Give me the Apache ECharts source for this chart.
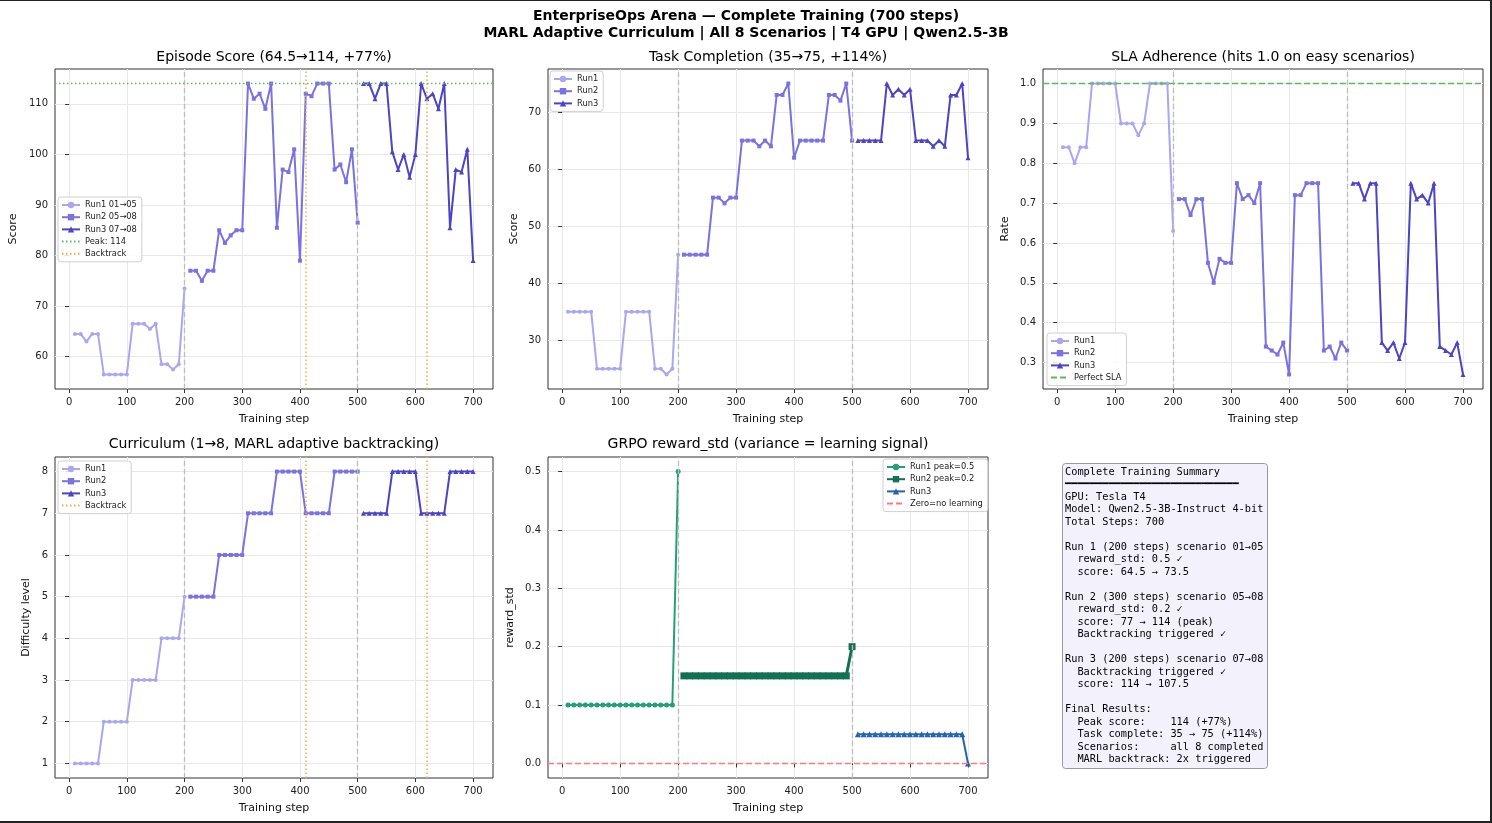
<!DOCTYPE html>
<html>
<head>
<meta charset="utf-8">
<script src="https://cdn.jsdelivr.net/npm/echarts@6/dist/echarts.min.js"></script>
<style>
html,body{margin:0;padding:0;background:#fff;}
#chart{width:1492px;height:823px;}
</style>
</head>
<body>
<div id="chart"></div>
<script>
// ---------- DATA ----------
const steps1 = [10,20,30,40,50,60,70,80,90,100,110,120,130,140,150,160,170,180,190,200];
const steps2 = [210,220,230,240,250,260,270,280,290,300,310,320,330,340,350,360,370,380,390,400,410,420,430,440,450,460,470,480,490,500];
const steps3 = [510,520,530,540,550,560,570,580,590,600,610,620,630,640,650,660,670,680,690,700];

const score1 = [64.5,64.5,63,64.5,64.5,56.5,56.5,56.5,56.5,56.5,66.5,66.5,66.5,65.5,66.5,58.5,58.5,57.5,58.5,73.5];
const score2 = [77,77,75,77,77,85,82.5,84,85,85,114,111,112,109,114,85.5,97,96.5,101,79,112,111.5,114,114,114,97,98,94.5,101,86.5];
const score3 = [114,114,111,114,114,100.5,97,100,95.5,100,114,111,112,109,114,85.5,97,96.5,101,79];

const task1 = [35,35,35,35,35,25,25,25,25,25,35,35,35,35,35,25,25,24,25,45];
const task2 = [45,45,45,45,45,55,55,54,55,55,65,65,65,64,65,64,73,73,75,62,65,65,65,65,65,73,73,72,75,65];
const task3 = [65,65,65,65,65,75,73,74,73,74,65,65,65,64,65,64,73,73,75,62];

const sla1 = [0.84,0.84,0.80,0.84,0.84,1,1,1,1,1,0.90,0.90,0.90,0.87,0.90,1,1,1,1,0.63];
const sla2 = [0.71,0.71,0.67,0.71,0.71,0.55,0.50,0.56,0.55,0.55,0.75,0.71,0.72,0.70,0.75,0.34,0.33,0.32,0.35,0.27,0.72,0.72,0.75,0.75,0.75,0.33,0.34,0.31,0.35,0.33];
const sla3 = [0.75,0.75,0.71,0.75,0.75,0.35,0.33,0.35,0.31,0.35,0.75,0.71,0.72,0.70,0.75,0.34,0.33,0.32,0.35,0.27];

const cur1 = [1,1,1,1,1,2,2,2,2,2,3,3,3,3,3,4,4,4,4,5];
const cur2 = [5,5,5,5,5,6,6,6,6,6,7,7,7,7,7,8,8,8,8,8,7,7,7,7,7,8,8,8,8,8];
const cur3 = [7,7,7,7,7,8,8,8,8,8,7,7,7,7,7,8,8,8,8,8];

const std1 = [0.1,0.1,0.1,0.1,0.1,0.1,0.1,0.1,0.1,0.1,0.1,0.1,0.1,0.1,0.1,0.1,0.1,0.1,0.1,0.5];
const std2 = [0.15,0.15,0.15,0.15,0.15,0.15,0.15,0.15,0.15,0.15,0.15,0.15,0.15,0.15,0.15,0.15,0.15,0.15,0.15,0.15,0.15,0.15,0.15,0.15,0.15,0.15,0.15,0.15,0.15,0.2];
const std3 = [0.05,0.05,0.05,0.05,0.05,0.05,0.05,0.05,0.05,0.05,0.05,0.05,0.05,0.05,0.05,0.05,0.05,0.05,0.05,0];

const runBoundaries = [200, 500];
const backtrackSteps = [410, 620];
const peakScore = 114;
const perfectSLA = 1.0;

const xTicks = [0,100,200,300,400,500,600,700];
const yTicks1 = [60,70,80,90,100,110];
const yTicks2 = [30,40,50,60,70];
const yTicks3 = [0.3,0.4,0.5,0.6,0.7,0.8,0.9,1.0];
const yTicks4 = [1,2,3,4,5,6,7,8];
const yTicks5 = [0,0.1,0.2,0.3,0.4,0.5];

const summaryLines = [
  'Complete Training Summary',
  '━━━━━━━━━━━━━━━━━━━━━━━━━━━━',
  'GPU: Tesla T4',
  'Model: Qwen2.5-3B-Instruct 4-bit',
  'Total Steps: 700',
  '',
  'Run 1 (200 steps) scenario 01→05',
  '  reward_std: 0.5 ✓',
  '  score: 64.5 → 73.5',
  '',
  'Run 2 (300 steps) scenario 05→08',
  '  reward_std: 0.2 ✓',
  '  score: 77 → 114 (peak)',
  '  Backtracking triggered ✓',
  '',
  'Run 3 (200 steps) scenario 07→08',
  '  Backtracking triggered ✓',
  '  score: 114 → 107.5',
  '',
  'Final Results:',
  '  Peak score:    114 (+77%)',
  '  Task complete: 35 → 75 (+114%)',
  '  Scenarios:     all 8 completed',
  '  MARL backtrack: 2x triggered'
];

// ---------- STYLE ----------
const FONT = 'DejaVu Sans';
const C1 = '#aba6ee', C2 = '#7a72df', C3 = '#4c44c2';
const G1 = '#23a07a', G2 = '#137052', G3 = '#2565ad';
const GREEN_REF = '#5cba5c', ORANGE = '#ffa640', RED0 = '#ff7a7a';

const zip = (xs, ys) => xs.map((x, i) => [x, ys[i]]);

const grids = [
  {left: 55,  top: 69,  width: 438, height: 320},
  {left: 548, top: 69,  width: 440, height: 320},
  {left: 1043,top: 69,  width: 440, height: 320},
  {left: 55,  top: 457, width: 438, height: 321},
  {left: 548, top: 457, width: 440, height: 321}
].map(g => Object.assign({show: true, borderColor: '#333', borderWidth: 1, backgroundColor: 'transparent'}, g));

function xAxis(i) {
  return {
    type: 'value', gridIndex: i, min: -24.5, max: 734.5,
    name: 'Training step', nameLocation: 'middle', nameGap: 25,
    nameTextStyle: {fontFamily: FONT, fontSize: 11, color: '#111'},
    axisLine: {show: false},
    axisTick: {show: true, inside: false, length: 4, lineStyle: {color: '#333'}, customValues: xTicks},
    axisLabel: {show: true, customValues: xTicks, fontFamily: FONT, fontSize: 10, color: '#222', margin: 8},
    splitLine: {show: true, lineStyle: {color: '#e8e8e8', width: 1}}
  };
}
function yAxis(i, min, max, ticks, name, gap, fmt) {
  return {
    type: 'value', gridIndex: i, min: min, max: max,
    name: name, nameLocation: 'middle', nameGap: gap,
    nameTextStyle: {fontFamily: FONT, fontSize: 11, color: '#111'},
    axisLine: {show: false},
    axisTick: {show: true, inside: false, length: 4, lineStyle: {color: '#333'}, customValues: ticks},
    axisLabel: {show: true, customValues: ticks, fontFamily: FONT, fontSize: 10, color: '#222', margin: 7,
      formatter: fmt || (v => String(v))},
    splitLine: {show: true, lineStyle: {color: '#e8e8e8', width: 1}}
  };
}

function runSeries(name, gi, xs, ys, color, symbol, opts) {
  opts = opts || {};
  return {
    type: 'line', name: name, xAxisIndex: gi, yAxisIndex: gi,
    data: zip(xs, ys), color: color,
    symbol: symbol, symbolSize: opts.size || 4, showSymbol: true,
    lineStyle: {color: color, width: opts.width || 2},
    itemStyle: {color: color},
    z: 3, animation: false, silent: true
  };
}
function vlineSeries(gi, xs) {
  return {
    type: 'line', name: '__runs' + gi, xAxisIndex: gi, yAxisIndex: gi, data: [],
    silent: true, animation: false,
    markLine: {silent: true, symbol: 'none', animation: false, label: {show: false},
      lineStyle: {color: '#bdbdbd', type: [5, 3], width: 1.3},
      data: xs.map(x => ({xAxis: x}))}
  };
}
function refSeries(name, gi, mlData, color, type, width) {
  return {
    type: 'line', name: name, xAxisIndex: gi, yAxisIndex: gi, data: [],
    symbol: 'none', color: color, lineStyle: {color: color, type: type, width: width},
    itemStyle: {color: color, opacity: 0},
    silent: true, animation: false, z: 2,
    markLine: {silent: true, symbol: 'none', animation: false, label: {show: false},
      lineStyle: {color: color, type: type, width: width, opacity: 1}, data: mlData}
  };
}

const series = [
  // plot 1
  vlineSeries(0, runBoundaries),
  runSeries('Run1 01→05', 0, steps1, score1, C1, 'circle'),
  runSeries('Run2 05→08', 0, steps2, score2, C2, 'rect'),
  runSeries('Run3 07→08', 0, steps3, score3, C3, 'triangle', {size: 5}),
  refSeries('Peak: 114', 0, [{yAxis: peakScore}], GREEN_REF, [1.5, 2.5], 1.4),
  refSeries('Backtrack', 0, backtrackSteps.map(x => ({xAxis: x})), ORANGE, [1.5, 2.5], 1.5),
  // plot 2
  vlineSeries(1, runBoundaries),
  runSeries('Run1', 1, steps1, task1, C1, 'circle'),
  runSeries('Run2', 1, steps2, task2, C2, 'rect'),
  runSeries('Run3', 1, steps3, task3, C3, 'triangle', {size: 5}),
  // plot 3
  vlineSeries(2, runBoundaries),
  runSeries('Run1', 2, steps1, sla1, C1, 'circle'),
  runSeries('Run2', 2, steps2, sla2, C2, 'rect'),
  runSeries('Run3', 2, steps3, sla3, C3, 'triangle', {size: 5}),
  refSeries('Perfect SLA', 2, [{yAxis: perfectSLA}], GREEN_REF, [6, 3], 1.4),
  // plot 4
  vlineSeries(3, runBoundaries),
  runSeries('Run1', 3, steps1, cur1, C1, 'circle'),
  runSeries('Run2', 3, steps2, cur2, C2, 'rect'),
  runSeries('Run3', 3, steps3, cur3, C3, 'triangle', {size: 5}),
  refSeries('Backtrack', 3, backtrackSteps.map(x => ({xAxis: x})), ORANGE, [1.5, 2.5], 1.5),
  // plot 5
  vlineSeries(4, runBoundaries),
  runSeries('Run1 peak=0.5', 4, steps1, std1, G1, 'circle', {size: 5, width: 2}),
  runSeries('Run2 peak=0.2', 4, steps2, std2, G2, 'rect', {size: 7, width: 3}),
  runSeries('Run3 ', 4, steps3, std3, G3, 'triangle', {size: 6, width: 2}),
  refSeries('Zero=no learning', 4, [{yAxis: 0}], RED0, [6, 3], 1.4)
];

const refNames = ['Peak: 114', 'Backtrack', 'Perfect SLA', 'Zero=no learning'];
function legend(left, top, names) {
  return {
    left: left, top: top, orient: 'vertical', selectedMode: false,
    data: names.map(n => refNames.includes(n) ? {name: n, itemStyle: {opacity: 0}} : n),
    itemWidth: 18, itemHeight: 8, itemGap: 4.2,
    padding: [4, 5, 4, 3],
    backgroundColor: 'rgba(255,255,255,0.85)', borderColor: '#d0d0d0', borderWidth: 1, borderRadius: 3,
    textStyle: {fontFamily: FONT, fontSize: 8.3, color: '#222'}
  };
}

const titles = [
  {x: 274, y: 57, t: 'Episode Score (64.5→114, +77%)'},
  {x: 768, y: 57, t: 'Task Completion (35→75, +114%)'},
  {x: 1263, y: 57, t: 'SLA Adherence (hits 1.0 on easy scenarios)'},
  {x: 274, y: 444, t: 'Curriculum (1→8, MARL adaptive backtracking)'},
  {x: 768, y: 444, t: 'GRPO reward_std (variance = learning signal)'}
];

const graphic = [
  {type: 'text', x: 746, y: 16, style: {text: 'EnterpriseOps Arena — Complete Training (700 steps)', textAlign: 'center', textVerticalAlign: 'middle', font: 'bold 14px "DejaVu Sans"', fill: '#000'}},
  {type: 'text', x: 746, y: 33, style: {text: 'MARL Adaptive Curriculum | All 8 Scenarios | T4 GPU | Qwen2.5-3B', textAlign: 'center', textVerticalAlign: 'middle', font: 'bold 14px "DejaVu Sans"', fill: '#000'}},
  ...titles.map(o => ({type: 'text', x: o.x, y: o.y, style: {text: o.t, textAlign: 'center', textVerticalAlign: 'middle', font: '14px "DejaVu Sans"', fill: '#000'}})),
  {type: 'rect', shape: {x: 1062.5, y: 463.5, width: 205, height: 305, r: 3}, style: {fill: '#f3f2fc', stroke: '#9a9a9a', lineWidth: 1}},
  {type: 'text', x: 1065, y: 466, style: {text: summaryLines.join('\n'), font: '10.3px "DejaVu Sans Mono"', lineHeight: 12.5, fill: '#000', textVerticalAlign: 'top'}},
  // figure border
  {type: 'rect', shape: {x: 0, y: 0, width: 1492, height: 1}, style: {fill: '#222'}},
  {type: 'rect', shape: {x: 1490, y: 0, width: 2, height: 823}, style: {fill: '#222'}},
  {type: 'rect', shape: {x: 0, y: 821, width: 1492, height: 2}, style: {fill: '#222'}}
];

const option = {
  backgroundColor: '#fff',
  animation: false,
  textStyle: {fontFamily: FONT},
  grid: grids,
  xAxis: [0,1,2,3,4].map(xAxis),
  yAxis: [
    yAxis(0, 53.625, 116.875, yTicks1, 'Score', 36),
    yAxis(1, 21.45, 77.55, yTicks2, 'Score', 28),
    yAxis(2, 0.2335, 1.0365, yTicks3, 'Rate', 32, v => v.toFixed(1)),
    yAxis(3, 0.65, 8.35, yTicks4, 'Difficulty level', 23),
    yAxis(4, -0.025, 0.525, yTicks5, 'reward_std', 32, v => v.toFixed(1))
  ],
  legend: [
    legend(58, 197, ['Run1 01→05', 'Run2 05→08', 'Run3 07→08', 'Peak: 114', 'Backtrack']),
    legend(550, 71, ['Run1', 'Run2', 'Run3']),
    legend(1047, 333, ['Run1', 'Run2', 'Run3', 'Perfect SLA']),
    legend(58, 461, ['Run1', 'Run2', 'Run3', 'Backtrack']),
    legend(883, 459, ['Run1 peak=0.5', 'Run2 peak=0.2', 'Run3 ', 'Zero=no learning'])
  ],
  series: series,
  graphic: graphic
};

const chart = echarts.init(document.getElementById('chart'), null, {renderer: 'canvas'});
chart.setOption(option);
</script>
</body>
</html>
